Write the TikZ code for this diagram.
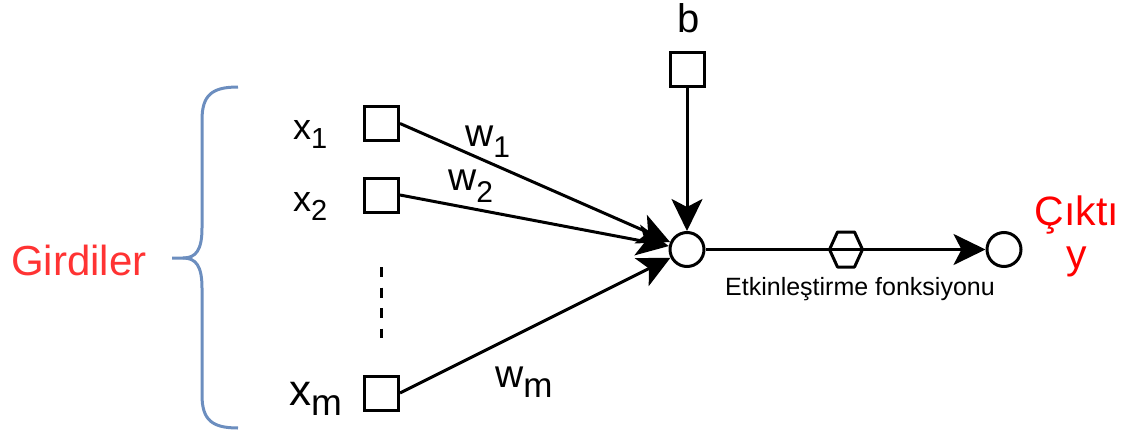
\documentclass[tikz,border=0pt]{standalone}
\usepackage{fontspec}
\setmainfont{Liberation Sans}
\usetikzlibrary{arrows.meta}
\definecolor{gred}{HTML}{FF3333}
\definecolor{bblue}{HTML}{6C8EBF}
\newcommand{\fs}[1]{\fontsize{#1}{#1}\selectfont}
\newcommand{\subl}[3]{\raisebox{-#2pt}{\fs{#1}#3}}
\begin{document}
\begin{tikzpicture}[x=1pt,y=-1pt,
  box/.style={draw,line width=3pt,minimum size=34pt,inner sep=0pt},
  neuron/.style={circle,draw,line width=3pt,minimum size=34pt,inner sep=0pt},
  conn/.style={line width=3pt,-{Stealth[length=32pt,width=31pt,inset=8pt]}},
  lab/.style={anchor=base west,inner sep=0pt},
  clab/.style={anchor=base,inner sep=0pt}]
\useasboundingbox (0,0) rectangle (1140,436);
% nodes
\node[box] (x1) at (381.5,123.5) {};
\node[box] (x2) at (381.5,195) {};
\node[box] (xm) at (381.5,393) {};
\node[box] (b) at (687,69.5) {};
\node[neuron] (sum) at (687,249.5) {};
\node[neuron] (out) at (1004,249.5) {};
\coordinate (hex) at (846,249.5);
% connectors
\draw[conn] (x1.east) -- (sum);
\draw[conn] (x2.east) -- (sum);
\draw[conn] (xm.east) -- (sum);
\draw[conn] (b) -- (sum);
\draw[conn] (sum) -- (out);
% activation hexagon
\draw[line width=3pt,line join=round,shift={(hex)}] (-16.5,0) -- (-8.5,-17.5) -- (8.5,-17.5) -- (16.5,0) -- (8.5,17.5) -- (-8.5,17.5) -- cycle;
% dots
\draw[line width=3pt,dash pattern=on 10pt off 10.5pt] (381,267) -- (381,338);
% brace
\draw[bblue,line width=3pt] (238,87) .. controls (212,87) and (202,95) .. (202,120) -- (202,228) .. controls (202,250) and (196,258) .. (183,258) -- (172,258);
\draw[bblue,line width=3pt] (238,428) .. controls (212,428) and (202,420) .. (202,395) -- (202,288) .. controls (202,266) and (196,258) .. (183,258);
% labels
\node[lab] (lx1) at (293,139) {\fs{36}x\subl{29}{9}{1}};
\node[lab] (lx2) at (293,211) {\fs{36}x\subl{29}{9}{2}};
\node[lab] (lxm) at (289,405) {\fs{44}x\subl{37}{10}{m}};
\node[lab] (lb) at (677,33) {\fs{40}b};
\node[lab] (lw1) at (465,146) {\fs{39}w\subl{30}{11}{1}};
\node[lab] (lw2) at (448,190) {\fs{39}w\subl{30}{12}{2}};
\node[lab] (lwm) at (495,387) {\fs{39}w\subl{35}{10}{m}};
\node[lab,text=gred] (gir) at (11,275) {\fs{42}Girdiler};
\node[clab,text=red] (cik) at (1077,225) {\fs{41}Çıktı};
\node[clab,text=red] (yy) at (1077,268) {\fs{41}y};
\node[lab] (act) at (725,295) {\fs{25}Etkinleştirme fonksiyonu};
\end{tikzpicture}
\end{document}
